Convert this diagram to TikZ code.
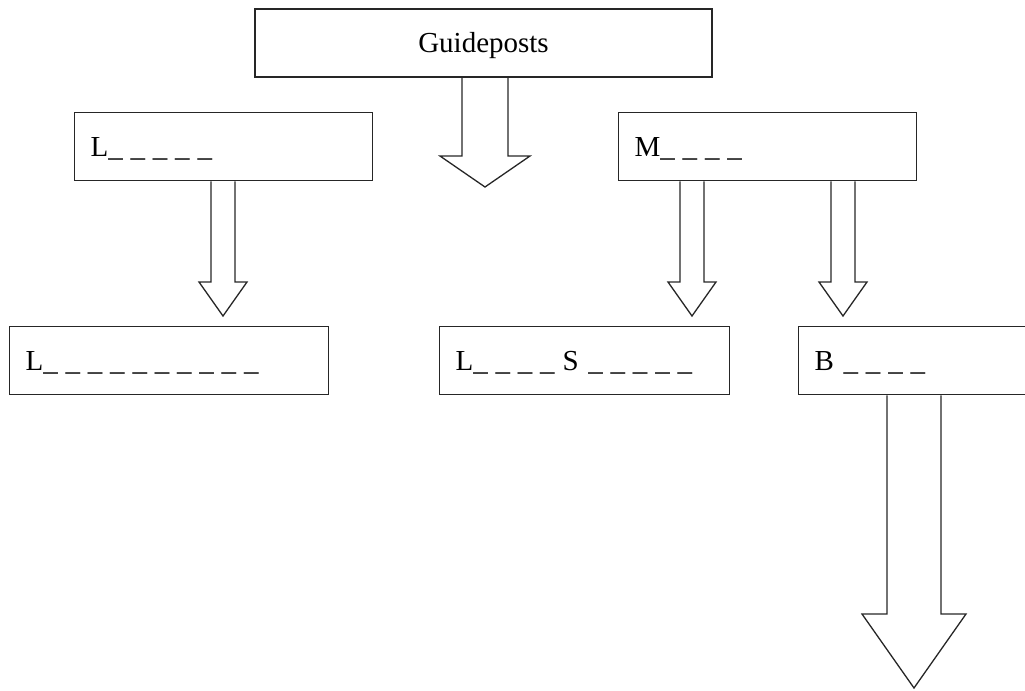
\documentclass[tikz,border=0pt]{standalone}
\usepackage{fontspec}
\setmainfont{Liberation Serif}
\usetikzlibrary{calc}

% hollow block arrow: source node, tip, shaft half width, head half width, head length
\newcommand{\hollowarrow}[5]{%
  \draw[arrowline] ($(#2 |- #1.south)+(-#3,0)$) -- ($(#2)+(-#3,#5)$)
    -- ($(#2)+(-#4,#5)$) -- (#2) -- ($(#2)+(#4,#5)$)
    -- ($(#2)+(#3,#5)$) -- ($(#2 |- #1.south)+(#3,0)$);}
% row of blanks to fill in
\newcommand{\blanks}[1]{\foreach \k in {1,...,#1}{\_\hspace{3.9pt}}}

\begin{document}
\begin{tikzpicture}[x=0.5pt, y=-0.5pt,
    box/.style={draw=black!85, line width=0.65pt, rectangle, minimum height=34pt,
      inner xsep=8pt, text height=9.6pt, text depth=0pt, anchor=north west,
      align=left, font=\fontsize{14.5pt}{17pt}\selectfont},
    arrowline/.style={draw=black!85, line width=0.65pt, line join=miter}]
    \clip (0,0) rectangle (1025,691);

    \node[box, anchor=center, align=center, text width=212.5pt] (guide) at (483.5,43) {Guideposts};
    \node[box, text width=133pt] (lword) at (74,112) {L\blanks{5}};
    \node[box, text width=133pt] (mword) at (618,112) {M\blanks{4}};
    \node[box, text width=143.5pt] (lbot) at (9,326) {L\blanks{10}};
    \node[box, text width=129pt] (lsbox) at (439,326) {L\blanks{4}S \blanks{5}};
    \node[box, text width=105pt] (bbox) at (798,326) {B \blanks{4}};

    % arrow tips
    \coordinate (gtip) at (485,187);
    \coordinate (ltip) at (223,316);
    \coordinate (mtipa) at (692,316);
    \coordinate (mtipb) at (843,316);
    \coordinate (btip) at (914,688);

    \hollowarrow{guide}{gtip}{11.5pt}{22.5pt}{15.5pt}
    \hollowarrow{lword}{ltip}{6pt}{12pt}{17pt}
    \hollowarrow{mword}{mtipa}{6pt}{12pt}{17pt}
    \hollowarrow{mword}{mtipb}{6pt}{12pt}{17pt}
    \hollowarrow{bbox}{btip}{13.5pt}{26pt}{37pt}
\end{tikzpicture}
\end{document}
